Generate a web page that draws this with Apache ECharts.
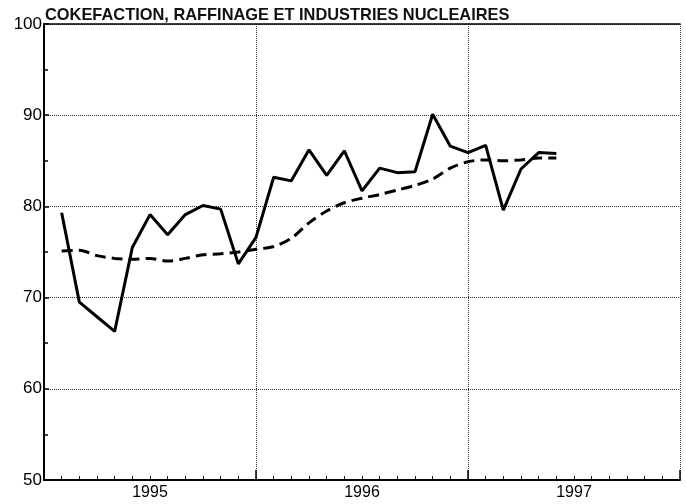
<!DOCTYPE html>
<html>
<head>
<meta charset="utf-8">
<script src="https://cdn.jsdelivr.net/npm/echarts@6/dist/echarts.min.js"></script>
<style>html,body{margin:0;padding:0;background:#fff}#c{width:686px;height:504px}</style>
</head>
<body>
<div id="c"></div>
<script>
const titleText = 'COKEFACTION, RAFFINAGE ET INDUSTRIES NUCLEAIRES';
const yearLabels = ['1995', '1996', '1997'];
const monthIndex = [1,2,3,4,5,6,7,8,9,10,11,12,13,14,15,16,17,18,19,20,21,22,23,24,25,26,27,28,29];
const rawSeries = [79.3,69.5,67.9,66.3,75.5,79.1,76.9,79.1,80.1,79.7,73.7,76.6,83.2,82.8,86.2,83.4,86.1,81.7,84.2,83.7,83.8,90.1,86.6,85.9,86.7,79.6,84.1,85.9,85.8];
const trendSeries = [75.1,75.2,74.6,74.3,74.2,74.3,74.0,74.3,74.7,74.8,75.0,75.3,75.6,76.5,78.2,79.5,80.4,80.9,81.3,81.8,82.3,83.0,84.2,84.9,85.1,85.0,85.1,85.3,85.3];

const pairs = (vals) => vals.map((v, i) => [monthIndex[i], v]);
const font = 'Liberation Sans, Arial, sans-serif';

const chart = echarts.init(document.getElementById('c'), null, {renderer: 'canvas'});
chart.setOption({
  animation: false,
  backgroundColor: '#fff',
  title: {
    text: titleText, left: 40, top: 7, padding: [0, 0, 0, 5],
    textStyle: {fontFamily: font, fontSize: 16.4, fontWeight: 'bold', color: '#111'}
  },
  grid: {left: 44, right: 6, top: 24, bottom: 24, containLabel: false},
  xAxis: [
    {
      type: 'value', min: 0, max: 36, interval: 12, position: 'bottom',
      axisLine: {show: true, lineStyle: {color: '#000', width: 2}},
      axisTick: {show: true, inside: true, length: 10, lineStyle: {color: '#000', width: 1.5}},
      minorTick: {show: true, splitNumber: 12, length: 4, lineStyle: {color: '#000', width: 1}},
      axisLabel: {show: false},
      splitLine: {show: true, lineStyle: {color: '#333', width: 1, type: [1, 1]}}
    },
    {
      type: 'value', min: 0, max: 36, interval: 6, position: 'bottom',
      axisLine: {show: false}, axisTick: {show: false}, splitLine: {show: false},
      axisLabel: {
        show: true, margin: 5, color: '#000', fontFamily: font, fontSize: 16,
        formatter: (v) => (v % 12 === 6 ? yearLabels[(v - 6) / 12] : '')
      }
    },
    {
      type: 'value', min: 0, max: 36, position: 'top',
      axisLine: {show: true, lineStyle: {color: '#000', width: 1.5}},
      axisTick: {show: false}, axisLabel: {show: false}, splitLine: {show: false}
    }
  ],
  yAxis: {
    type: 'value', min: 50, max: 100, interval: 10,
    axisLine: {show: true, lineStyle: {color: '#000', width: 2}},
    axisTick: {show: true, inside: true, length: 5, lineStyle: {color: '#000', width: 1.5}},
    minorTick: {show: true, splitNumber: 2, length: 4, lineStyle: {color: '#000', width: 1.5}},
    axisLabel: {show: true, margin: 2, color: '#000', fontFamily: font, fontSize: 17},
    splitLine: {show: true, lineStyle: {color: '#333', width: 1, type: [1, 1]}}
  },
  series: [
    {
      type: 'line', xAxisIndex: 0, data: pairs(rawSeries), symbol: 'none',
      lineStyle: {color: '#000', width: 3}
    },
    {
      type: 'line', xAxisIndex: 0, data: pairs(trendSeries), symbol: 'none', smooth: 0.3,
      lineStyle: {color: '#000', width: 3, type: [11, 6]}
    }
  ]
});
</script>
</body>
</html>
